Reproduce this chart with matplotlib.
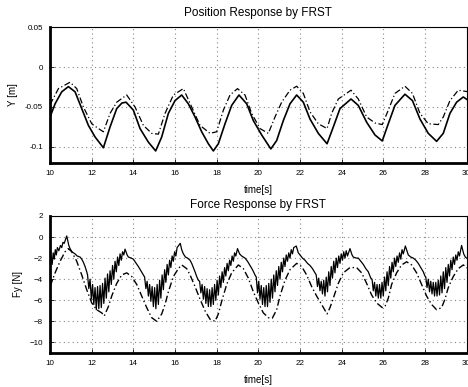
import matplotlib
matplotlib.use("Agg")
import matplotlib.pyplot as plt

plt.rcParams["font.family"] = ["Liberation Sans", "DejaVu Sans"]

# position response (top)
pos_t = [10.0, 10.24, 10.56, 10.88, 11.2, 11.52, 11.84, 12.16, 12.56, 12.88, 13.2, 13.45, 13.65,
         14.0, 14.32, 14.72, 15.07, 15.36, 15.68, 16.0, 16.32, 16.64, 16.96, 17.28, 17.6, 17.84,
         18.08, 18.4, 18.72, 19.07, 19.44, 19.76, 20.16, 20.6, 20.88, 21.2, 21.52, 21.84, 22.16,
         22.48, 22.88, 23.3, 23.6, 23.92, 24.45, 24.8, 25.2, 25.6, 25.95, 26.24, 26.56, 27.04,
         27.4, 27.76, 28.16, 28.56, 28.88, 29.2, 29.52, 29.84, 30.1]
pos_y = [-0.0625, -0.046, -0.031, -0.0245, -0.031, -0.052, -0.073, -0.0875, -0.101, -0.075, -0.052,
         -0.045, -0.044, -0.054, -0.077, -0.094, -0.105, -0.0875, -0.058, -0.042, -0.035, -0.046,
         -0.0625, -0.081, -0.096, -0.105, -0.096, -0.071, -0.048, -0.035, -0.046, -0.067, -0.085,
         -0.1025, -0.092, -0.067, -0.046, -0.035, -0.044, -0.065, -0.083, -0.096, -0.075, -0.052,
         -0.040, -0.048, -0.069, -0.085, -0.0925, -0.071, -0.048, -0.034, -0.042, -0.065, -0.083,
         -0.093, -0.083, -0.058, -0.044, -0.0375, -0.042]

pos_ref_t = [10.0, 10.4, 10.96, 11.28, 11.6, 12.0, 12.32, 12.56, 12.88, 13.2, 13.68, 14.08, 14.48,
             14.88, 15.2, 15.52, 15.92, 16.4, 16.8, 17.2, 17.68, 18.0, 18.32, 18.64, 19.0, 19.36,
             19.68, 20.08, 20.48, 20.8, 21.12, 21.52, 21.84, 22.16, 22.48, 22.88, 23.3, 23.52,
             23.84, 24.45, 24.8, 25.2, 25.6, 25.95, 26.24, 26.56, 27.04, 27.4, 27.76, 28.16,
             28.64, 28.88, 29.2, 29.6, 30.1]
pos_ref_y = [-0.047, -0.027, -0.019, -0.027, -0.05, -0.071, -0.077, -0.081, -0.058, -0.044, -0.035,
             -0.05, -0.073, -0.083, -0.084, -0.058, -0.035, -0.027, -0.05, -0.073, -0.083, -0.081,
             -0.054, -0.035, -0.027, -0.035, -0.058, -0.077, -0.083, -0.0625, -0.044, -0.029,
             -0.024, -0.033, -0.056, -0.071, -0.077, -0.058, -0.040, -0.029, -0.040, -0.0625,
             -0.070, -0.072, -0.054, -0.033, -0.024, -0.033, -0.058, -0.071, -0.072, -0.0625,
             -0.042, -0.029, -0.031]

# force response (bottom)
force_t = [10.0, 10.05, 10.1, 10.15, 10.2, 10.25, 10.3, 10.35, 10.42, 10.5, 10.56, 10.62, 10.68, 10.8,
           10.9, 10.96, 11.05, 11.2, 11.3, 11.44, 11.52, 11.6, 11.68, 11.76,
           11.80, 11.86, 11.92, 11.98, 12.04, 12.10, 12.16, 12.22, 12.28, 12.34, 12.40, 12.46, 12.52,
           12.58, 12.64, 12.70, 12.76, 12.82, 12.88, 12.94, 13.00, 13.06, 13.12, 13.18, 13.24, 13.30,
           13.36, 13.42, 13.48, 13.54, 13.60,
           13.7, 13.76, 13.9, 14.0, 14.1, 14.24, 14.36, 14.48,
           14.54, 14.60, 14.66, 14.72, 14.78, 14.84, 14.90, 14.96, 15.02, 15.08, 15.14, 15.20, 15.26,
           15.32, 15.38, 15.44, 15.50, 15.56, 15.62, 15.68, 15.74, 15.80, 15.86, 15.92, 15.98, 16.04,
           16.10, 16.25,
           16.32, 16.4, 16.5, 16.6, 16.72, 16.8, 16.9, 16.96, 17.05, 17.12,
           17.18, 17.24, 17.30, 17.36, 17.42, 17.48, 17.54, 17.60, 17.66, 17.72, 17.78, 17.84, 17.90,
           17.96, 18.02, 18.08, 18.14, 18.20, 18.26, 18.32, 18.38, 18.44, 18.50, 18.56, 18.62, 18.68,
           18.74, 18.80, 18.86, 18.92, 19.00,
           19.1, 19.2, 19.36, 19.48, 19.6, 19.72, 19.84,
           19.90, 19.96, 20.02, 20.08, 20.14, 20.20, 20.26, 20.32, 20.38, 20.44, 20.50, 20.56, 20.62,
           20.68, 20.74, 20.80, 20.86, 20.92, 20.98, 21.04, 21.10, 21.16, 21.22, 21.28, 21.34, 21.40,
           21.46, 21.52, 21.58, 21.64, 21.70, 21.82,
           21.92, 22.0, 22.12, 22.24, 22.36, 22.48, 22.6, 22.72,
           22.78, 22.84, 22.90, 22.96, 23.02, 23.08, 23.14, 23.20, 23.26, 23.32, 23.38, 23.44, 23.50,
           23.56, 23.62, 23.68, 23.74, 23.80, 23.86, 23.92, 23.98, 24.04, 24.10, 24.16, 24.22, 24.28,
           24.40,
           24.5, 24.56, 24.7, 24.8, 24.92, 25.04, 25.16, 25.28, 25.4,
           25.46, 25.52, 25.58, 25.64, 25.70, 25.76, 25.82, 25.88, 25.94, 26.00, 26.06, 26.12, 26.18,
           26.24, 26.30, 26.36, 26.42, 26.48, 26.54, 26.60, 26.66, 26.72, 26.78, 26.84, 26.90, 26.96,
           27.06,
           27.2, 27.32, 27.44, 27.56, 27.68, 27.8, 27.92, 28.0,
           28.04, 28.10, 28.16, 28.22, 28.28, 28.34, 28.40, 28.46, 28.52, 28.58, 28.64, 28.70, 28.76,
           28.82, 28.88, 28.94, 29.00, 29.06, 29.12, 29.18, 29.24, 29.30, 29.36, 29.42, 29.48, 29.54,
           29.60, 29.66, 29.76,
           29.86, 29.94, 30.0, 30.1]
force_fy = [-2.8, -1.8, -2.6, -1.5, -2.1, -1.2, -1.7, -1.0, -1.3, -0.8, -1.0, -0.5, -0.6, 0.1,
            -0.8, -1.1, -1.4, -1.6, -1.8, -1.9, -2.1, -2.4, -2.8, -3.3,
            -3.6, -4.9, -4.0, -5.9, -4.5, -6.4, -4.8, -6.9, -4.7, -6.8, -4.6, -6.7, -4.4, -6.3, -3.9,
            -5.8, -3.5, -5.2, -3.2, -4.5, -2.7, -4.0, -2.3, -3.3, -1.9, -2.7, -1.6, -2.2, -1.4, -1.7,
            -1.15,
            -1.7, -1.9, -2.0, -2.1, -2.4, -2.8, -3.2, -3.6,
            -3.8, -4.9, -4.2, -5.6, -4.5, -6.1, -4.7, -6.6, -4.8, -6.8, -4.5, -6.4, -4.1, -5.8, -3.6,
            -5.0, -3.1, -4.3, -2.6, -3.6, -2.2, -2.9, -1.8, -2.3, -1.4, -1.8, -1.0, -0.6,
            -1.2, -1.6, -1.9, -2.0, -2.2, -2.5, -3.0, -3.3, -3.8, -4.1,
            -4.2, -5.3, -4.5, -5.9, -4.7, -6.3, -4.9, -6.6, -5.0, -6.6, -4.8, -6.4, -4.5, -6.0, -4.1,
            -5.5, -3.7, -4.8, -3.3, -4.3, -2.9, -3.7, -2.5, -3.2, -2.2, -2.7, -1.8, -2.3, -1.5, -1.8,
            -1.1,
            -1.6, -1.8, -2.0, -2.3, -2.7, -3.1, -3.6,
            -3.8, -5.3, -4.2, -5.9, -4.6, -6.4, -4.8, -6.6, -4.6, -6.6, -4.4, -6.2, -4.0, -5.8, -3.6,
            -5.2, -3.2, -4.6, -2.8, -4.0, -2.4, -3.3, -2.0, -2.8, -1.7, -2.3, -1.5, -2.0, -1.2, -1.6,
            -1.0, -0.85,
            -1.5, -1.7, -2.0, -2.2, -2.5, -2.7, -3.0, -3.4,
            -3.6, -4.7, -3.9, -5.1, -4.2, -5.4, -4.1, -5.6, -3.8, -5.2, -3.3, -4.6, -2.8, -3.9, -2.3,
            -3.4, -2.0, -2.9, -1.8, -2.5, -1.6, -2.2, -1.4, -2.0, -1.3, -1.8, -1.1,
            -1.7, -1.9, -2.0, -2.0, -2.3, -2.6, -3.0, -3.3, -3.9,
            -4.0, -5.1, -4.3, -5.6, -4.5, -5.8, -4.5, -5.8, -4.3, -5.6, -3.8, -5.1, -3.3, -4.6, -2.8,
            -3.9, -2.4, -3.3, -2.0, -2.8, -1.8, -2.4, -1.5, -2.1, -1.2, -1.6, -0.85,
            -1.7, -1.9, -2.0, -2.2, -2.5, -2.9, -3.3, -3.7,
            -3.8, -4.8, -4.0, -5.2, -4.2, -5.4, -4.3, -5.6, -4.3, -5.6, -4.1, -5.5, -3.7, -5.3, -3.3,
            -4.9, -2.9, -4.3, -2.6, -3.7, -2.2, -3.1, -1.9, -2.6, -1.7, -2.2, -1.4, -1.8, -0.8,
            -1.6, -1.9, -2.0, -2.1]

force_ref_t = [10.0, 10.24, 10.48, 10.72, 10.88, 11.04, 11.28, 11.52, 11.76, 12.0, 12.24, 12.48, 12.6,
               12.8, 12.96, 13.2, 13.44, 13.68, 13.92, 14.16, 14.4, 14.64, 14.88, 15.12, 15.36, 15.52,
               15.68, 15.92, 16.16, 16.32, 16.56, 16.72, 16.96, 17.2, 17.44, 17.68, 17.92, 18.08,
               18.24, 18.48, 18.72, 19.04, 19.28, 19.52, 19.76, 20.0, 20.24, 20.48, 20.67, 20.88,
               21.04, 21.28, 21.52, 21.84, 22.08, 22.32, 22.56, 22.8, 23.04, 23.3, 23.44, 23.6, 23.84,
               24.08, 24.4, 24.72, 24.96, 25.2, 25.44, 25.68, 25.95, 26.08, 26.24, 26.4, 26.64, 26.88,
               27.12, 27.36, 27.6, 27.84, 28.08, 28.32, 28.56, 28.8, 28.96, 29.12, 29.36, 29.6, 29.84,
               30.08]
force_ref_fy = [-4.7, -3.4, -2.3, -1.4, -1.1, -1.4, -2.3, -3.6, -5.0, -6.25, -6.9, -7.2, -7.5, -6.6,
                -5.6, -4.4, -3.6, -3.4, -3.75, -4.5, -5.6, -6.7, -7.65, -8.0, -7.3, -6.4, -5.2, -3.75,
                -3.0, -2.65, -3.0, -3.6, -4.7, -5.9, -7.0, -7.8, -8.0, -7.3, -6.1, -4.5, -3.4, -2.65,
                -3.0, -3.9, -5.2, -6.25, -7.2, -7.65, -7.7, -6.9, -5.6, -4.1, -3.1, -2.5, -2.8, -3.6,
                -4.7, -5.6, -6.4, -7.3, -6.7, -5.8, -4.4, -3.4, -2.9, -2.9, -3.4, -4.4, -5.5, -6.25,
                -6.7, -6.6, -5.8, -4.5, -3.4, -2.65, -2.35, -2.65, -3.4, -4.5, -5.6, -6.4, -6.9, -6.7,
                -5.9, -4.8, -3.75, -3.0, -2.65, -3.0]

xticks = [10, 12, 14, 16, 18, 20, 22, 24, 26, 28, 30]
pos_yticks = [-0.1, -0.05, 0, 0.05]
pos_yticklabels = ["-0.1", "-0.05", "0", "0.05"]
force_yticks = [-10, -8, -6, -4, -2, 0, 2]

fig = plt.figure(figsize=(4.68, 3.87), dpi=100)
ax1 = fig.add_axes([0.107, 0.579, 0.89, 0.351])
ax2 = fig.add_axes([0.107, 0.088, 0.89, 0.354])

dashdot = (0, (5, 2, 1, 2))
ax1.plot(pos_t, pos_y, color="black", lw=1.2)
ax1.plot(pos_ref_t, pos_ref_y, color="black", lw=0.9, ls=dashdot)
ax2.plot(force_t, force_fy, color="black", lw=0.9)
ax2.plot(force_ref_t, force_ref_fy, color="black", lw=1.0, ls=dashdot)

ax1.set_ylim(-0.12, 0.05)
ax1.set_yticks(pos_yticks)
ax1.set_yticklabels(pos_yticklabels)
ax2.set_ylim(-11, 2)
ax2.set_yticks(force_yticks)

for ax, title, ylab, tpad in [(ax1, "Position Response by FRST", "Y [m]", 8),
                              (ax2, "Force Response by FRST", "Fy [N]", 6)]:
    ax.set_xlim(10, 30)
    ax.set_xticks(xticks)
    ax.grid(True, color="#888888", ls=(0, (1, 3)), lw=0.8)
    ax.tick_params(direction="in", length=3, labelsize=5.8, pad=5, width=0.6)
    ax.set_title(title, fontsize=8.5, pad=tpad)
    ax.set_xlabel("time[s]", fontsize=7, labelpad=6)
    ax.set_ylabel(ylab, fontsize=7, labelpad=5)
    ax.spines["left"].set_linewidth(2)
    ax.spines["bottom"].set_linewidth(2)
    ax.spines["top"].set_linewidth(0.8)
    ax.spines["right"].set_linewidth(0.8)

fig.savefig("out.png", dpi=100)
